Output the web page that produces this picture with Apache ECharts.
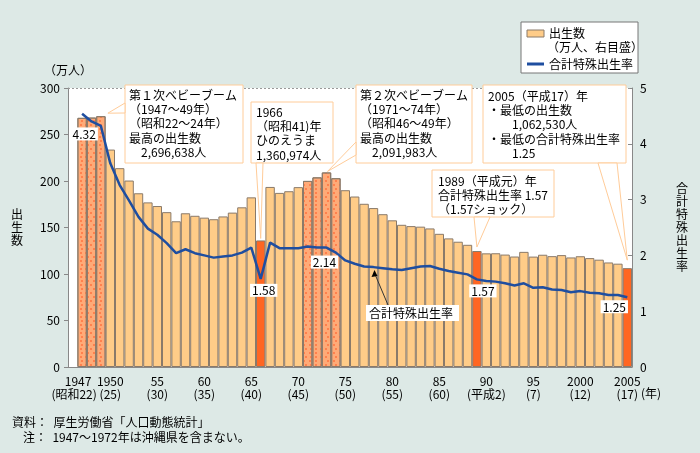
<!DOCTYPE html>
<html><head><meta charset="utf-8">
<script src="https://cdn.jsdelivr.net/npm/echarts@6/dist/echarts.min.js"></script>
<style>html,body{margin:0;padding:0;background:#dde9e6}#c{width:700px;height:453px}</style>
</head><body><div id="c"></div>
<script>
// ---- data ----
const years = [];
for (let y = 1946; y <= 2005; y++) years.push(y);
const births = [null,
 267.9,268.2,269.7,233.8,213.8,200.5,186.8,177.0,173.1,166.5,
 156.7,165.3,162.6,160.6,158.9,161.9,166.0,171.7,182.4,136.1,
 193.6,187.2,189.0,193.4,200.1,203.9,209.2,203.0,190.1,183.3,
 175.5,170.9,164.3,157.7,152.9,151.5,150.9,149.0,143.2,138.3,
 134.7,131.4,124.7,122.2,122.3,120.9,118.8,123.8,118.7,120.7,
 119.2,120.3,117.8,119.1,117.1,115.4,112.4,111.1,106.3];
const tfr = [null,
 4.54,4.40,4.32,3.65,3.26,2.98,2.69,2.48,2.37,2.22,
 2.04,2.11,2.04,2.00,1.96,1.98,2.00,2.05,2.14,1.58,
 2.23,2.13,2.13,2.13,2.16,2.14,2.14,2.05,1.91,1.85,
 1.80,1.79,1.77,1.75,1.74,1.77,1.80,1.81,1.76,1.72,
 1.69,1.66,1.57,1.54,1.53,1.50,1.46,1.50,1.42,1.43,
 1.39,1.38,1.34,1.36,1.33,1.32,1.29,1.29,1.25];
const boomYears = [1947,1948,1949,1971,1972,1973,1974];
const specialYears = [1966,1989,2005];
const tickYears = [1947,1950,1955,1960,1965,1970,1975,1980,1985,1990,1995,2000,2005];
const tickLabels = ['1947\n(昭和22)','1950\n(25)','55\n(30)','60\n(35)','65\n(40)','70\n(45)','75\n(50)','80\n(55)','85\n(60)','90\n(平成2)','95\n(7)','2000\n(12)','2005\n(17)'];
const labeledYears = [1949,1966,1973,1989,2005];
const leftTicks = [0,50,100,150,200,250,300];
const rightTicks = [0,1,2,3,4,5];

// ---- styles ----
const FONT = '"Noto Sans CJK JP", "Noto Sans", sans-serif';
const BAR = '#FFCC88', BOOM = '#FFAA77', SPECIAL = '#FF6622', EDGE = '#8a7a6a';
const LINE = '#1f4ea0', BOX = '#FFCC99';

const barData = births.map((v, i) => {
  const y = years[i];
  if (boomYears.includes(y)) return {value: v, itemStyle: {color: BOOM, decal: {symbol:'rect', symbolSize:0.8, color:'#FF6633', dashArrayX:[[2,3],[0,2.5,2,0.5]], dashArrayY:[2,2]}}};
  if (specialYears.includes(y)) return {value: v, itemStyle: {color: SPECIAL}};
  return v;
});
const labelOffsets = {1949:['left',[2,8]],1966:['bottom',[3,0]],1973:['bottom',[-2,3]],1989:['bottom',[6,0]],2005:['bottom',[-13,-2]]};
const lineData = tfr.map((v, i) => {
  const y = years[i];
  if (labeledYears.includes(y)) {
    const lo = labelOffsets[y];
    return {value: v, label: {show:true, position: lo[0], offset: lo[1], distance:5, formatter: v.toFixed(2),
      backgroundColor:'#fff', padding:[1,2,0,2], color:'#000', fontSize:12, fontFamily: FONT}};
  }
  return v;
});

const chart = echarts.init(document.getElementById('c'), null, {renderer:'canvas'});
chart.setOption({
  backgroundColor: '#dde9e6',
  animation: false,
  textStyle: {fontFamily: FONT},
  grid: {left:68, right:68, top:88, bottom:86, show:true, backgroundColor:'#fff', borderWidth:0},
  xAxis: {
    type:'category', data: years.map(String),
    axisLine:{lineStyle:{color:'#888'}}, axisTick:{show:false},
    axisLabel:{
      interval: (idx) => idx === 0 || tickYears.includes(years[idx]),
      hideOverlap:false,
      formatter: (v) => {
        const k = tickYears.indexOf(+v);
        if (k < 0) return '';
        if (k === 0) return '{a|1947}\n{b|(昭和22)}';
        return tickLabels[k];
      },
      rich:{a:{fontSize:12, lineHeight:13, padding:[0,8,0,0], fontFamily:FONT, color:'#000'},
            b:{fontSize:12, lineHeight:13, padding:[0,16,0,0], fontFamily:FONT, color:'#000'}},
      color:'#000', fontSize:12, lineHeight:13, margin:8, fontFamily: FONT
    }
  },
  yAxis: [
    {type:'value', min:leftTicks[0], max:leftTicks[leftTicks.length-1], interval:50,
     name:'出\n生\n数', nameLocation:'middle', nameGap:45, nameRotate:0,
     nameTextStyle:{color:'#000', fontSize:12, lineHeight:13, fontFamily:FONT},
     axisLine:{show:true, lineStyle:{color:'#888'}}, axisTick:{show:true, length:4, lineStyle:{color:'#888'}},
     splitLine:{show:false}, axisLabel:{color:'#000', fontSize:12, margin:8, fontFamily:FONT}},
    {type:'value', min:rightTicks[0], max:rightTicks[rightTicks.length-1], interval:1, position:'right',
     name:'合\n計\n特\n殊\n出\n生\n率', nameLocation:'middle', nameGap:44, nameRotate:0,
     nameTextStyle:{color:'#000', fontSize:12, lineHeight:13, fontFamily:FONT},
     axisLine:{show:true, lineStyle:{color:'#888'}}, axisTick:{show:true, inside:true, length:4, lineStyle:{color:'#888'}},
     splitLine:{show:false}, axisLabel:{color:'#000', fontSize:12, margin:8, fontFamily:FONT}}
  ],
  series: [
    {name:'出生数', type:'bar', yAxisIndex:0, data: barData, barCategoryGap:'0%',
     itemStyle:{color:BAR, borderColor:EDGE, borderWidth:1},
     markLine:{silent:true, symbol:'none', label:{show:false}, lineStyle:{color:'#999', type:[2,2], width:1},
       data:[{yAxis: leftTicks[leftTicks.length-1]}]}},
    {name:'合計特殊出生率', type:'line', yAxisIndex:1, data: lineData, symbol:'circle', symbolSize:0, showSymbol:true,
     lineStyle:{color:LINE, width:2.5}, itemStyle:{color:LINE}, z:5}
  ]
});

// ---- annotations anchored to data ----
function px(year, val, axis) {
  const i = years.indexOf(year);
  return chart.convertToPixel({xAxisIndex:0, yAxisIndex:axis}, [i, val]);
}
function boxText(x, y, w, h, lines, tx, ty) {
  return [
    {type:'rect', shape:{x, y, width:w, height:h}, style:{fill:'#fff', stroke:BOX, lineWidth:1}, z:50},
    {type:'text', x:tx, y:ty, style:{text: lines.join('\n'), font:'12px '+FONT, fill:'#000', lineHeight:14.3, verticalAlign:'top'}, z:52}
  ];
}
function pointer(p1, p2, tip) {
  return {type:'polygon', shape:{points:[p1, tip, p2]}, style:{fill:'#fff', stroke:BOX, lineWidth:1}, z:51};
}
const val = (y) => births[years.indexOf(y)];
const t49 = px(1949, val(1949), 0), t66 = px(1966, val(1966), 0), t73 = px(1973, val(1973), 0),
      t89 = px(1989, val(1989), 0), t05 = px(2005, val(2005), 0), l78 = px(1978, tfr[years.indexOf(1978)], 1);

const g = [];
g.push(...boxText(125, 85, 118, 78, ['第１次ベビーブーム','（1947〜49年）','（昭和22〜24年）','最高の出生数','　2,696,638人'], 129, 88));
g.push(pointer([125,103],[125,113],[t49[0]+7, t49[1]-3]));
g.push(...boxText(251, 102, 82, 61, ['1966','（昭和41)年','ひのえうま','1,360,974人'], 256, 105));
g.push(pointer([256,163],[263,163],[t66[0], t66[1]-2]));
g.push(...boxText(356, 85, 116, 78, ['第２次ベビーブーム','（1971〜74年）','（昭和46〜49年）','最高の出生数','　2,091,983人'], 360, 88));
g.push(pointer([356,142],[356,155],[t73[0]+1, t73[1]-1]));
g.push(...boxText(483, 85, 143, 78, ['2005（平成17）年','・最低の出生数','　　1,062,530人','・最低の合計特殊出生率','　　1.25'], 488, 89));
g.push(pointer([598,163],[617,163],[t05[0], t05[1]-8]));
g.push(...boxText(432, 170, 122, 47, ['1989（平成元）年','合計特殊出生率 1.57','（1.57ショック）'], 438, 174));
g.push(pointer([474,217],[490,217],[t89[0], t89[1]-4]));
// line label with arrow
g.push({type:'line', shape:{x1:388, y1:305, x2:l78[0]+1, y2:l78[1]+6}, style:{stroke:'#333', lineWidth:1}, z:53});
g.push({type:'polygon', shape:{points:[[l78[0]+1, l78[1]+3],[l78[0]-2, l78[1]+10],[l78[0]+4, l78[1]+9]]}, style:{fill:'#000'}, z:53});
g.push({type:'rect', shape:{x:366, y:305, width:93, height:16}, style:{fill:'#fff'}, z:52});
g.push({type:'text', x:369, y:313, style:{text:'合計特殊出生率', font:'12px '+FONT, fill:'#000', verticalAlign:'middle'}, z:53});
// legend
g.push({type:'rect', shape:{x:521, y:22, width:117, height:51}, style:{fill:'#fff', stroke:'#777', lineWidth:1}, z:50});
g.push({type:'rect', shape:{x:527, y:30, width:17, height:7}, style:{fill:BAR, stroke:EDGE, lineWidth:1}, z:51});
g.push({type:'text', x:549, y:33, style:{text:'出生数', font:'12px '+FONT, fill:'#000', verticalAlign:'middle'}, z:51});
g.push({type:'text', x:547, y:47, style:{text:'（万人、右目盛）', font:'12px '+FONT, fill:'#000', verticalAlign:'middle'}, z:51});
g.push({type:'line', shape:{x1:527, y1:64, x2:544, y2:64}, style:{stroke:LINE, lineWidth:3}, z:51});
g.push({type:'text', x:549, y:64, style:{text:'合計特殊出生率', font:'12px '+FONT, fill:'#000', verticalAlign:'middle'}, z:51});
// other texts
g.push({type:'text', x:44, y:70, style:{text:'（万人）', font:'12px '+FONT, fill:'#000', verticalAlign:'middle'}});
g.push({type:'text', x:641, y:393, style:{text:'(年)', font:'12px '+FONT, fill:'#000', verticalAlign:'middle'}});
g.push({type:'text', x:12, y:422, style:{text:'資料：  厚生労働省「人口動態統計」', font:'12px '+FONT, fill:'#000', verticalAlign:'middle'}});
g.push({type:'text', x:23, y:437, style:{text:'注：  1947〜1972年は沖縄県を含まない。', font:'12px '+FONT, fill:'#000', verticalAlign:'middle'}});
chart.setOption({graphic: g});
</script></body></html>
